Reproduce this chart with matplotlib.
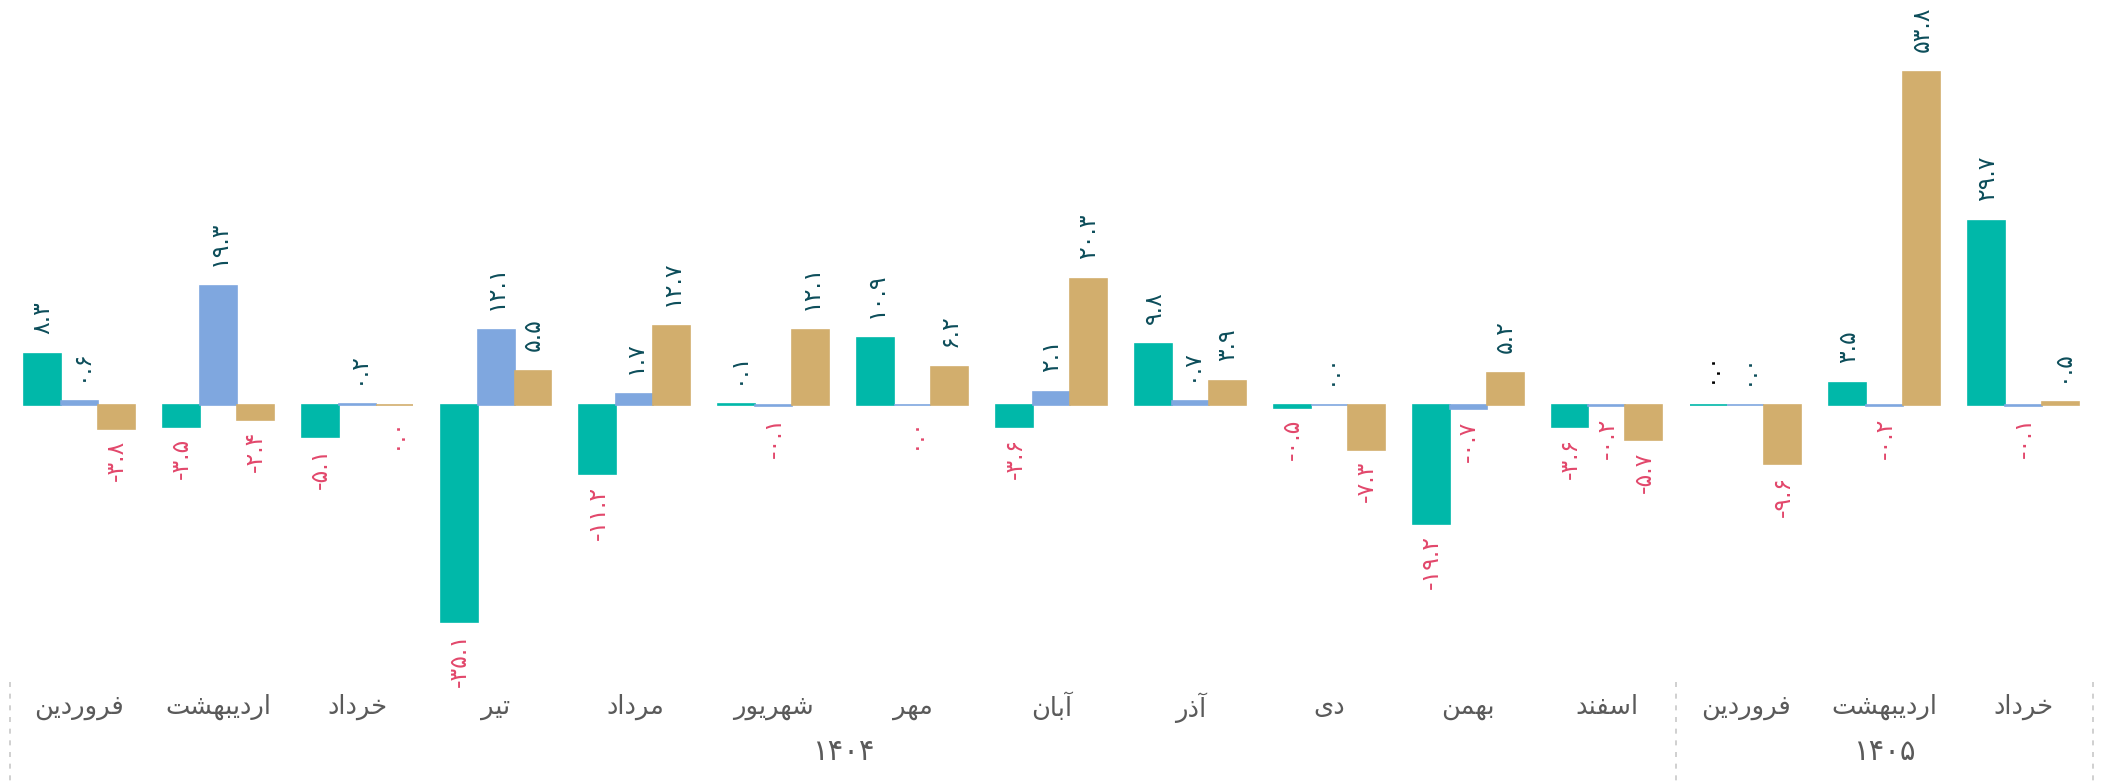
import matplotlib
matplotlib.use("Agg")
import numpy as np
import matplotlib.pyplot as plt

# --- DATOS ---
months = ["فروردین", "اردیبهشت", "خرداد", "تیر", "مرداد", "شهریور", "مهر",
          "آبان", "آذر", "دی", "بهمن", "اسفند", "فروردین", "اردیبهشت", "خرداد"]
years = ["۱۴۰۴", "۱۴۰۵"]
year_counts = [12, 3]

# -0.0 = valor negativo que se redondea a cero; None = sin dato
teal_vals = [8.3, -3.5, -5.1, -35.1, -11.2, 0.1, 10.9, -3.6, 9.8, -0.5, -19.2, -3.6, None, 3.5, 29.7]
blue_vals = [0.6, 19.3, 0.2, 12.1, 1.7, -0.1, -0.0, 2.1, 0.7, 0.0, -0.7, -0.2, 0.0, -0.2, -0.1]
tan_vals = [-3.8, -2.4, -0.0, 5.5, 12.7, 12.1, 6.2, 20.3, 3.9, -7.3, 5.2, -5.7, -9.6, 53.8, 0.5]

colors = ["#00b8a9", "#7fa7df", "#d2ae6d"]
POS_COLOR = "#0c4d5a"
NEG_COLOR = "#e2476b"
GRAY = "#5a5a5a"

# --- Forma de letras persas (matplotlib no hace shaping) ---
# (aislada, final, inicial, media)
FORMS = {
    "ا": ("\uFE8D", "\uFE8E", None, None),
    "آ": ("\uFE81", "\uFE82", None, None),
    "د": ("\uFEA9", "\uFEAA", None, None),
    "ذ": ("\uFEAB", "\uFEAC", None, None),
    "ر": ("\uFEAD", "\uFEAE", None, None),
    "و": ("\uFEED", "\uFEEE", None, None),
    "ب": ("\uFE8F", "\uFE90", "\uFE91", "\uFE92"),
    "ت": ("\uFE95", "\uFE96", "\uFE97", "\uFE98"),
    "خ": ("\uFEA5", "\uFEA6", "\uFEA7", "\uFEA8"),
    "س": ("\uFEB1", "\uFEB2", "\uFEB3", "\uFEB4"),
    "ش": ("\uFEB5", "\uFEB6", "\uFEB7", "\uFEB8"),
    "ف": ("\uFED1", "\uFED2", "\uFED3", "\uFED4"),
    "م": ("\uFEE1", "\uFEE2", "\uFEE3", "\uFEE4"),
    "ن": ("\uFEE5", "\uFEE6", "\uFEE7", "\uFEE8"),
    "ه": ("\uFEE9", "\uFEEA", "\uFEEB", "\uFEEC"),
    "ی": ("\uFEEF", "\uFEF0", "\uFEF3", "\uFEF4"),
}


def shape(word):
    out = []
    for i, c in enumerate(word):
        if c not in FORMS:
            out.append(c)
            continue
        prev = word[i - 1] if i > 0 else None
        nxt = word[i + 1] if i + 1 < len(word) else None
        j_prev = prev in FORMS and FORMS[prev][2] is not None
        j_next = nxt in FORMS and FORMS[c][2] is not None
        iso, fin, ini, med = FORMS[c]
        if j_prev and j_next:
            out.append(med)
        elif j_prev:
            out.append(fin)
        elif j_next:
            out.append(ini)
        else:
            out.append(iso)
    return "".join(reversed(out))


FA = str.maketrans("0123456789", "۰۱۲۳۴۵۶۷۸۹")


def fmt(v):
    s = f"{abs(v):.1f}".translate(FA)
    return "-" + s if v <= -0.05 else s


plt.rcParams["font.family"] = ["DejaVu Sans"]

fig = plt.figure(figsize=(21.05, 7.81), dpi=100)
ax = fig.add_axes([10 / 2105, 101 / 781, 2083 / 2105, 680 / 781])

x = np.arange(len(months))
w = 0.266
LBL = 17
for k, (vals, col) in enumerate(zip([teal_vals, blue_vals, tan_vals], colors)):
    xs = x + (k - 1) * w
    heights = [0.0 if v is None else v for v in vals]
    ax.bar(xs, heights, width=w, color=col, edgecolor=col, linewidth=1.2)
    for xi, v in zip(xs, vals):
        if v is None:
            ax.annotate("۰.۰", (xi, 0), xytext=(0, 22), textcoords="offset pixels",
                        rotation=90, ha="center", va="bottom", fontsize=LBL, color="black")
            continue
        if np.signbit(v):
            ax.annotate(fmt(v), (xi, v), xytext=(0, -11), textcoords="offset pixels",
                        rotation=90, ha="center", va="top", fontsize=LBL, color=NEG_COLOR)
        else:
            ax.annotate(fmt(v), (xi, v), xytext=(0, 20), textcoords="offset pixels",
                        rotation=90, ha="center", va="bottom", fontsize=LBL, color=POS_COLOR)

ax.set_xlim(-0.5, len(months) - 0.5)
ax.set_ylim(-44.4, 65.4)
ax.axis("off")

trans = ax.get_xaxis_transform()
for xi, m in zip(x, months):
    ax.text(xi, -0.04, shape(m), transform=trans, ha="center", va="center",
            fontsize=18.5, color=GRAY)

start = 0
seps = [-0.5]
for yr, n in zip(years, year_counts):
    ax.text(start + (n - 1) / 2, -0.106, yr, transform=trans, ha="center", va="center",
            fontsize=21, color=GRAY)
    start += n
    seps.append(start - 0.5)

for s in seps:
    ax.plot([s, s], [-0.003, -0.15], transform=trans, color="#c8c8c8",
            linestyle=(0, (3, 4)), linewidth=1.2, clip_on=False)

fig.savefig("out.png", dpi=100)
